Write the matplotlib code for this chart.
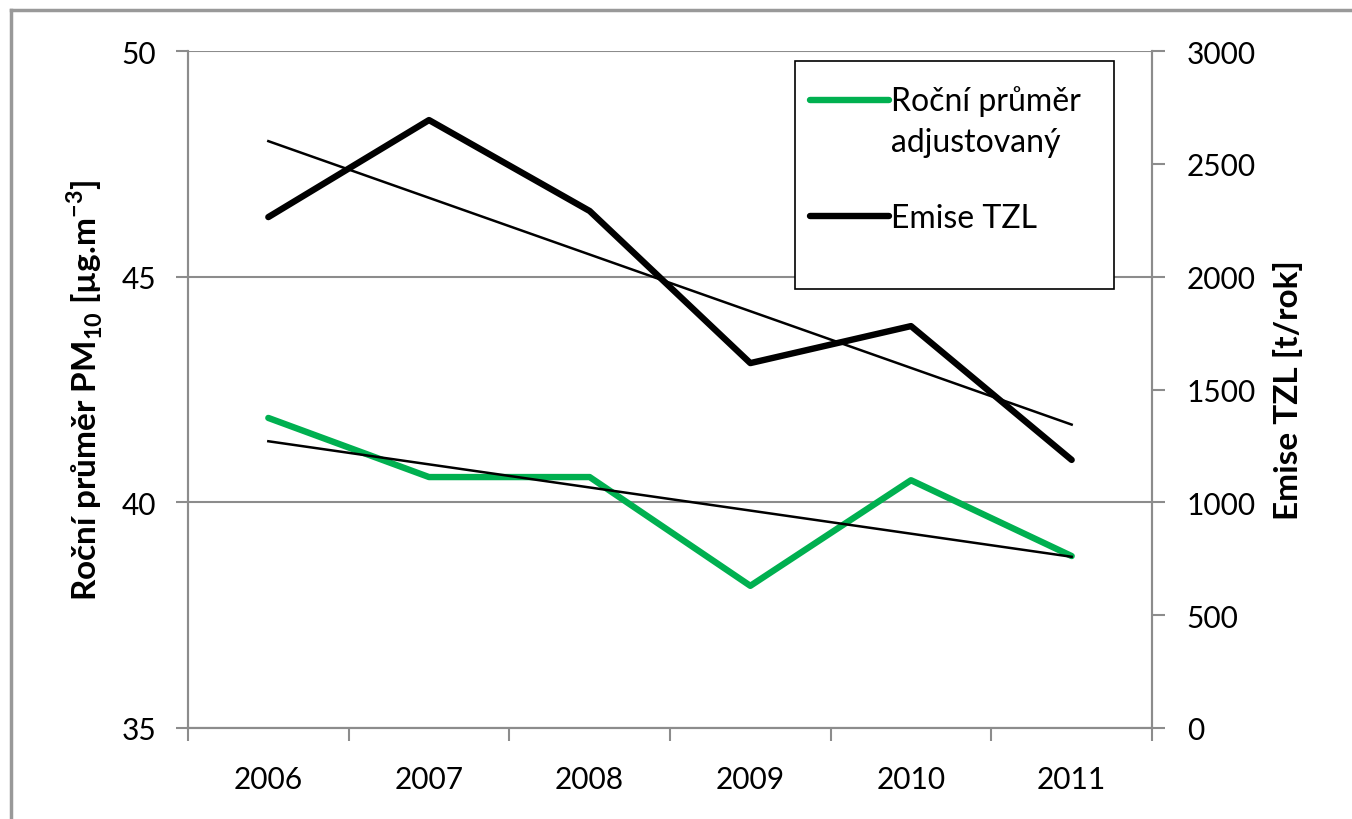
import numpy as np
import matplotlib
matplotlib.use('Agg')
import matplotlib.pyplot as plt
from matplotlib.lines import Line2D
from matplotlib.patches import Rectangle
from matplotlib.legend_handler import HandlerLine2D

plt.rcParams['font.family'] = ['Lato', 'DejaVu Sans']
plt.rcParams['mathtext.fontset'] = 'custom'
plt.rcParams['mathtext.rm'] = 'Lato'
plt.rcParams['mathtext.bf'] = 'Lato:bold'

# Data
roky = ['2006', '2007', '2008', '2009', '2010', '2011']
prumer_adj = [41.87, 40.56, 40.56, 38.15, 40.49, 38.81]   # ug/m3
emise_tzl = [2264, 2694, 2291, 1617, 1781, 1188]         # t/rok

x = np.arange(len(roky))

# Linearni trendy (jako v Excelu)
k1, q1 = np.polyfit(x, prumer_adj, 1)
k2, q2 = np.polyfit(x, emise_tzl, 1)

zelena = '#00B050'
seda = '#8c8c8c'


# Znacka legendy zarovnana k prvnimu radku textu
class HandlerNahore(HandlerLine2D):
    def __init__(self, posun=0, **kw):
        super().__init__(**kw)
        self.posun = posun

    def create_artists(self, legend, orig_handle, xdescent, ydescent, width, height, fontsize, trans):
        art = super().create_artists(legend, orig_handle, xdescent, ydescent, width, height, fontsize, trans)
        for a in art:
            a.set_ydata(np.asarray(a.get_ydata()) + self.posun)
        return art


fig = plt.figure(figsize=(13.52, 8.2), dpi=100)
ax = fig.add_axes([188/1352, 1 - 729/820, (1152 - 188)/1352, (729 - 52)/820])
ax2 = ax.twinx()

# Levá osa
ax.plot(x, prumer_adj, color=zelena, lw=4.6, solid_capstyle='round', zorder=3)
ax.plot(x, k1*x + q1, color='black', lw=1.8, zorder=4)
ax.set_ylim(35, 50)
ax.set_yticks([35, 40, 45, 50])
ax.set_xlim(-0.5, 5.5)
ax.set_xticks(x)
ax.set_xticklabels(roky)
ax.set_xticks(np.arange(-0.5, 6, 1), minor=True)
ax.tick_params(axis='x', which='major', length=0, pad=27, labelsize=21.5)
ax.tick_params(axis='x', which='minor', length=9, color=seda, width=1.5, direction='out')
ax.tick_params(axis='y', length=9, color=seda, width=1.5, pad=14, labelsize=21.5)
ax.grid(axis='y', color=seda, lw=1.5)
ax.set_axisbelow(True)
ax.set_ylabel('Roční průměr PM$_{\\mathbf{10}}$ [µg.m$^{\\mathbf{-3}}$]',
              fontsize=24, fontweight='bold', labelpad=12)

# Pravá osa
ax2.plot(x, emise_tzl, color='black', lw=4.6, solid_capstyle='round', zorder=3)
ax2.plot(x, k2*x + q2, color='black', lw=1.8, zorder=4)
ax2.set_ylim(0, 3000)
ax2.set_yticks(np.arange(0, 3001, 500))
ax2.tick_params(axis='y', length=9, color=seda, width=1.5, pad=16, labelsize=21.5)
ax2.set_ylabel('Emise TZL [t/rok]', fontsize=24, fontweight='bold', labelpad=12)

for a in (ax, ax2):
    a.spines['top'].set_visible(False)
    for s in ('left', 'right', 'bottom'):
        a.spines[s].set_color(seda)
        a.spines[s].set_linewidth(1.5)

# Legenda
ax2.add_patch(Rectangle((0.63, 0.648), 0.961 - 0.63, 0.985 - 0.648, transform=ax2.transAxes,
                        facecolor='white', edgecolor='black', lw=1.2, zorder=5))
h_zel = Line2D([0], [0], color=zelena, lw=4.6, solid_capstyle='round')
h_cer = Line2D([0], [0], color='black', lw=4.6, solid_capstyle='round')
leg = ax2.legend([h_zel, h_cer], ['Roční průměr\nadjustovaný', 'Emise TZL'], loc='upper left',
                 bbox_to_anchor=(0.62, 0.985), frameon=False, fontsize=23,
                 handlelength=2.5, handletextpad=0.05, labelspacing=1.45,
                 borderpad=0.75, borderaxespad=0,
                 handler_map={h_zel: HandlerNahore(posun=16), h_cer: HandlerNahore(posun=0)})
for t in leg.get_texts():
    t.set_linespacing(1.45)
leg.set_zorder(6)

# Rámeček grafu
fig.add_artist(Line2D([11/1352, 11/1352], [0, 1 - 11/820], color='#999999', lw=2.5))
fig.add_artist(Line2D([11/1352, 1], [1 - 11/820, 1 - 11/820], color='#999999', lw=2.5))

plt.savefig('out.png', dpi=100)
